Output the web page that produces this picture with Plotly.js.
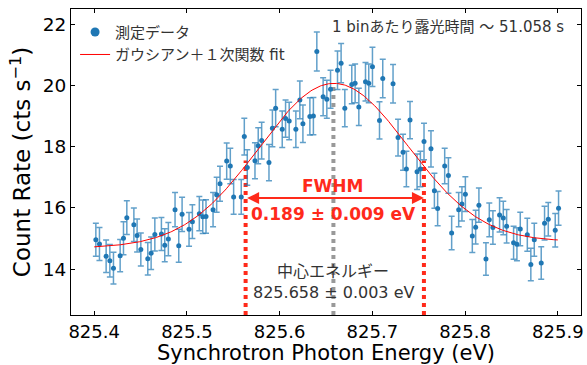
<!DOCTYPE html>
<html><head><meta charset="utf-8">
<script src="https://cdn.plot.ly/plotly-3.0.1.min.js"></script>
<style>html,body{margin:0;padding:0;background:#fff}#plot{width:587px;height:365px}</style>
</head><body><div id="plot"></div>
<script>
// Measured data (Synchrotron photon energy in eV, count rate in cts/s)
const energy = [825.4018,825.4057,825.4129,825.4169,825.4208,825.4280,825.4316,825.4352,825.4428,825.4463,
825.4503,825.4578,825.4614,825.4654,825.4725,825.4761,825.4800,825.4872,825.4912,825.4948,
825.5023,825.5059,825.5134,825.5171,825.5206,825.5282,825.5321,825.5357,825.5429,825.5468,
825.5504,825.5586,825.5619,825.5651,825.5734,825.5769,825.5806,825.5885,825.5922,825.5957,
825.6028,825.6064,825.6103,825.6175,825.6218,825.6251,825.6326,825.6364,825.6401,825.6469,
825.6509,825.6549,825.6624,825.6663,825.6703,825.6778,825.6814,825.6854,825.6926,825.6961,
825.7001,825.7077,825.7112,825.7223,825.7277,825.7331,825.7367,825.7406,825.7482,825.7518,
825.7557,825.7632,825.7669,825.7704,825.7780,825.7820,825.7855,825.7931,825.7966,825.8003,
825.8078,825.8114,825.8149,825.8225,825.8261,825.8300,825.8372,825.8412,825.8448,825.8523,
825.8559,825.8595,825.8671,825.8709,825.8746,825.8821,825.8857,825.8897,825.8972,825.9008];
const rate = [14.96,14.82,14.42,14.27,14.03,14.44,15.01,15.68,15.45,15.10,
14.64,14.34,14.52,15.13,15.15,14.78,14.98,15.94,14.76,15.79,
15.30,15.55,15.81,15.71,15.72,15.94,16.43,16.79,17.53,17.37,
16.36,16.36,18.33,17.32,17.54,18.03,18.20,17.48,18.60,19.26,
18.57,18.92,18.84,18.57,19.53,18.75,18.99,19.00,21.11,19.63,
19.55,19.88,20.50,20.73,19.26,20.03,20.07,19.30,20.12,20.07,
20.61,18.86,20.23,20.06,18.30,17.82,17.27,18.87,17.18,17.27,
18.17,17.93,16.56,15.98,17.37,17.06,15.18,15.94,16.13,16.45,
15.08,15.37,16.09,14.33,15.61,15.36,15.77,15.67,15.40,14.86,
14.81,15.31,15.12,14.15,14.96,14.20,15.50,15.63,15.27,15.99];
const rateErr = [0.54,0.54,0.53,0.53,0.52,0.53,0.54,0.55,0.55,0.54,
0.54,0.53,0.53,0.54,0.54,0.54,0.54,0.56,0.54,0.56,
0.55,0.55,0.56,0.55,0.55,0.56,0.57,0.57,0.59,0.58,
0.57,0.57,0.60,0.58,0.59,0.59,0.60,0.59,0.60,0.61,
0.60,0.61,0.61,0.60,0.62,0.61,0.61,0.61,0.64,0.62,
0.62,0.62,0.63,0.64,0.61,0.63,0.63,0.61,0.63,0.63,
0.64,0.61,0.63,0.63,0.60,0.59,0.58,0.61,0.58,0.58,
0.60,0.59,0.57,0.56,0.58,0.58,0.55,0.56,0.56,0.57,
0.54,0.55,0.56,0.53,0.55,0.55,0.56,0.55,0.55,0.54,
0.54,0.55,0.54,0.53,0.54,0.53,0.55,0.55,0.55,0.56];

// Fit result (Gaussian + linear)
const fitCenter = 825.658, fitCenterErr = 0.003;
const fitFWHM = 0.189, fitFWHMErr = 0.009;
const fitAmp = 5.27, fitOffset = 14.80, fitSlope = 0.4;
const fitRange = [825.40, 825.90];
const fwhmEdges = [825.5633, 825.7556];   // marker lines as drawn
const fwhmLineTop = 17.55;
const fwhmArrowY = 16.32;
const exposure = 51.058;
const xTicks = [825.4, 825.5, 825.6, 825.7, 825.8, 825.9];
const yTicks = [14, 16, 18, 20, 22];

const sigma = fitFWHM / (2*Math.sqrt(2*Math.log(2)));
const fitModel = x => fitAmp*Math.exp(-((x-fitCenter)**2)/(2*sigma*sigma)) + fitOffset + fitSlope*(x-fitCenter);
const fitX = [], fitY = [];
for (let i = 0; i <= 400; i++) { const x = fitRange[0] + (fitRange[1]-fitRange[0])*i/400; fitX.push(x); fitY.push(fitModel(x)); }
const yMin = 12.5, yMax = 22.5;

const FONT = 'DejaVu Sans, "Noto Sans CJK JP", sans-serif';
const RED = '#ff2a1a';
const BLUE = '#1f77b4';
const EBAR = {type: 'data', visible: true, color: 'rgba(31,119,180,0.7)', thickness: 1.5, width: 3};

const traces = [
  {x: [fwhmEdges[0], fwhmEdges[0]], y: [yMin, fwhmLineTop], mode: 'lines', line: {color: RED, width: 4, dash: 'dot'}, showlegend: false, hoverinfo: 'skip'},
  {x: [fwhmEdges[1], fwhmEdges[1]], y: [yMin, fwhmLineTop], mode: 'lines', line: {color: RED, width: 4, dash: 'dot'}, showlegend: false, hoverinfo: 'skip'},
  {x: [fitCenter, fitCenter], y: [yMin, 20.0], mode: 'lines', line: {color: '#999999', width: 4, dash: 'dot'}, showlegend: false, hoverinfo: 'skip'},
  {x: energy, y: rate, mode: 'markers', name: '測定データ', type: 'scatter', showlegend: false,
   marker: {color: BLUE, size: 5}, error_y: Object.assign({array: rateErr}, EBAR)},
  {x: [null], y: [null], mode: 'markers', name: '測定データ', type: 'scatter',
   marker: {color: BLUE, size: 9}},
  {x: fitX, y: fitY, mode: 'lines', name: 'ガウシアン＋１次関数 fit', line: {color: 'red', width: 1}}
];

const layout = {
  width: 587, height: 365,
  margin: {l: 71, r: 6, t: 9, b: 50},
  paper_bgcolor: '#fff', plot_bgcolor: '#fff',
  font: {family: FONT, color: '#000'},
  showlegend: true,
  legend: {x: 0.008, y: 0.978, xanchor: 'left', yanchor: 'top', bgcolor: 'rgba(0,0,0,0)', font: {size: 15, color: '#333'}, tracegroupgap: 0},
  xaxis: {range: [825.375, 825.925], tickvals: xTicks, ticktext: xTicks.map(v => v.toFixed(1)),
    ticks: 'inside', ticklen: 4, tickcolor: '#000', showline: true, linecolor: '#000', linewidth: 1, mirror: 'ticks',
    showgrid: false, zeroline: false, tickfont: {size: 18},
    title: {text: 'Synchrotron Photon Energy (eV)', font: {size: 21}, standoff: 7}},
  yaxis: {range: [yMin, yMax], tickvals: yTicks, ticks: 'inside', ticklen: 4, tickcolor: '#000',
    showline: true, linecolor: '#000', linewidth: 1, mirror: 'ticks', showgrid: false, zeroline: false,
    tickfont: {size: 18.5},
    title: {text: 'Count Rate (cts s<sup>−1</sup>)', font: {size: 23}, standoff: 5}},
  annotations: [
    {x: fwhmEdges[1], y: fwhmArrowY, ax: fwhmEdges[0], ay: fwhmArrowY, xref: 'x', yref: 'y', axref: 'x', ayref: 'y',
     text: '', showarrow: true, arrowhead: 2, startarrowhead: 2, arrowside: 'end+start', arrowsize: 1.2, arrowwidth: 2, arrowcolor: RED},
    {x: fitCenter, y: 16.72, xref: 'x', yref: 'y', text: 'FWHM', showarrow: false, font: {size: 17, color: RED, weight: 'bold'}},
    {x: fitCenter, y: 15.80, xref: 'x', yref: 'y', text: fitFWHM.toFixed(3) + ' ± ' + fitFWHMErr.toFixed(3) + ' eV', showarrow: false, font: {size: 17, color: RED, weight: 'bold'}},
    {x: fitCenter, y: 13.93, xref: 'x', yref: 'y', text: '中心エネルギー', showarrow: false, font: {size: 16, color: '#333'}},
    {x: fitCenter, y: 13.22, xref: 'x', yref: 'y', text: fitCenter.toFixed(3) + ' ± ' + fitCenterErr.toFixed(3) + ' eV', showarrow: false, font: {size: 16, color: '#333'}},
    {x: 0.97, y: 0.942, xref: 'paper', yref: 'paper', xanchor: 'right', yanchor: 'middle', text: '1 binあたり露光時間 〜 ' + exposure.toFixed(3) + ' s', showarrow: false, font: {size: 15, color: '#333'}}
  ]
};
Plotly.newPlot('plot', traces, layout, {staticPlot: true, displayModeBar: false});
</script></body></html>
